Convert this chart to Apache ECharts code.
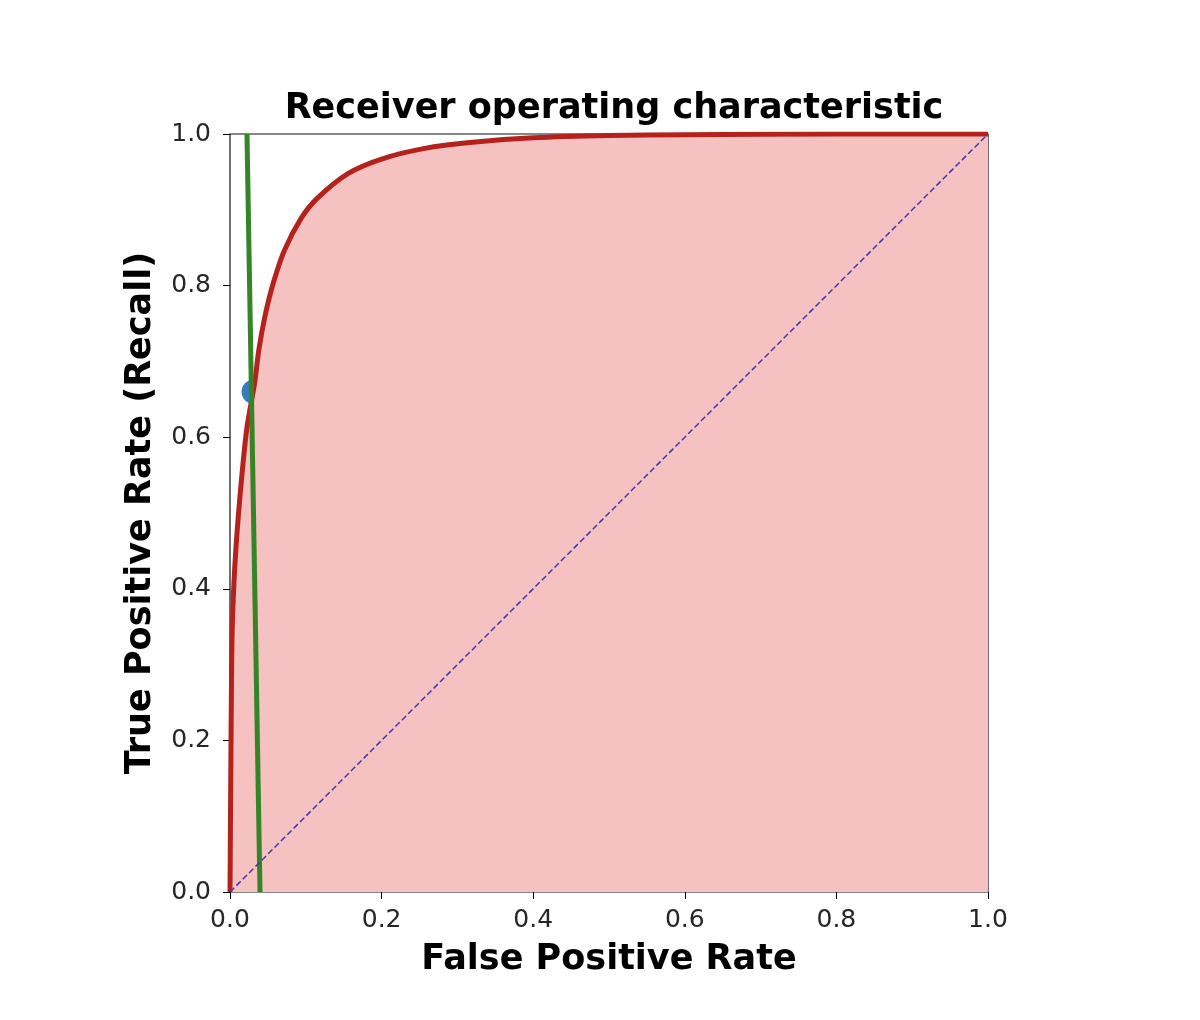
<!DOCTYPE html>
<html>
<head>
<meta charset="utf-8">
<script src="https://cdn.jsdelivr.net/npm/echarts@6/dist/echarts.min.js"></script>
<style>
  html, body { margin: 0; padding: 0; background: #fff; }
  #box01 { width: 1200px; height: 1020px; }
</style>
</head>
<body>
<div id="box01"></div>
<script>
// ROC curve points: [fpr, tpr]
var rocFpr = [0, 0.001, 0.002, 0.003, 0.0066, 0.013, 0.022, 0.0326, 0.038, 0.046, 0.057, 0.072, 0.094, 0.115, 0.156, 0.2, 0.257, 0.32, 0.4, 0.5, 0.6, 0.8, 1.0];
var rocTpr = [0, 0.15, 0.28, 0.35, 0.434, 0.52, 0.61, 0.672, 0.715, 0.759, 0.803, 0.847, 0.889, 0.915, 0.948, 0.967, 0.981, 0.989, 0.995, 0.998, 0.999, 1.0, 1.0];
// threshold line (green)
var threshX = [0.0396, 0.0224];
var threshY = [0, 1];
// operating point (blue dot)
var pointX = [0.031];
var pointY = [0.660];
// chance diagonal
var diagX = [0, 1];
var diagY = [0, 1];
var tickLabels = ['0.0', '0.2', '0.4', '0.6', '0.8', '1.0'];

function zip(a, b) {
    var out = [];
    for (var i = 0; i < a.length; i++) out.push([a[i], b[i]]);
    return out;
}

var myChart = echarts.init(document.getElementById('box01'));
var font = 'DejaVu Sans';

function tickFmt(v) {
    return tickLabels[Math.round(v / 0.2)];
}

var option = {
    backgroundColor: '#fff',
    animation: false,
    title: {
        text: 'Receiver operating characteristic',
        left: 609,
        top: 86,
        textAlign: 'center',
        textStyle: { fontFamily: font, fontSize: 35, fontWeight: 'bold', color: '#000' }
    },
    grid: {
        left: 230, top: 134, width: 758, height: 758,
        show: true, borderColor: '#111', borderWidth: 1.2, backgroundColor: 'transparent'
    },
    xAxis: {
        type: 'value', min: 0, max: 1, interval: 0.2,
        name: 'False Positive Rate', nameLocation: 'middle', nameGap: 50,
        nameTextStyle: { fontFamily: font, fontSize: 35, fontWeight: 'bold', color: '#000' },
        axisLine: { show: false },
        axisTick: { show: true, length: 7, lineStyle: { color: '#000' } },
        axisLabel: { formatter: tickFmt, fontFamily: font, fontSize: 25, color: '#262626', margin: 16 },
        splitLine: { show: false }
    },
    yAxis: {
        type: 'value', min: 0, max: 1, interval: 0.2,
        name: 'True Positive Rate (Recall)', nameLocation: 'middle', nameGap: 72,
        nameTextStyle: { fontFamily: font, fontSize: 35, fontWeight: 'bold', color: '#000' },
        axisLine: { show: false },
        axisTick: { show: true, length: 7, lineStyle: { color: '#000' } },
        axisLabel: { formatter: tickFmt, fontFamily: font, fontSize: 25, color: '#262626', margin: 19 },
        splitLine: { show: false }
    },
    series: [
        {
            name: 'point',
            type: 'scatter',
            z: 1,
            data: zip(pointX, pointY),
            symbolSize: 24,
            itemStyle: { color: '#3a7dbd', opacity: 1 }
        },
        {
            name: 'ROC',
            type: 'line',
            z: 2,
            data: zip(rocFpr, rocTpr),
            showSymbol: false,
            smooth: 0.3,
            lineStyle: { color: '#b5221c', width: 5 },
            areaStyle: { color: '#f6c1c1', opacity: 1 }
        },
        {
            name: 'threshold',
            type: 'line',
            z: 3,
            data: zip(threshX, threshY),
            showSymbol: false,
            lineStyle: { color: '#338526', width: 5 }
        },
        {
            name: 'chance',
            type: 'line',
            z: 4,
            data: zip(diagX, diagY),
            showSymbol: false,
            lineStyle: { color: '#3d3da8', width: 1.5, type: [6, 3] }
        }
    ]
};
myChart.setOption(option);
</script>
</body>
</html>
